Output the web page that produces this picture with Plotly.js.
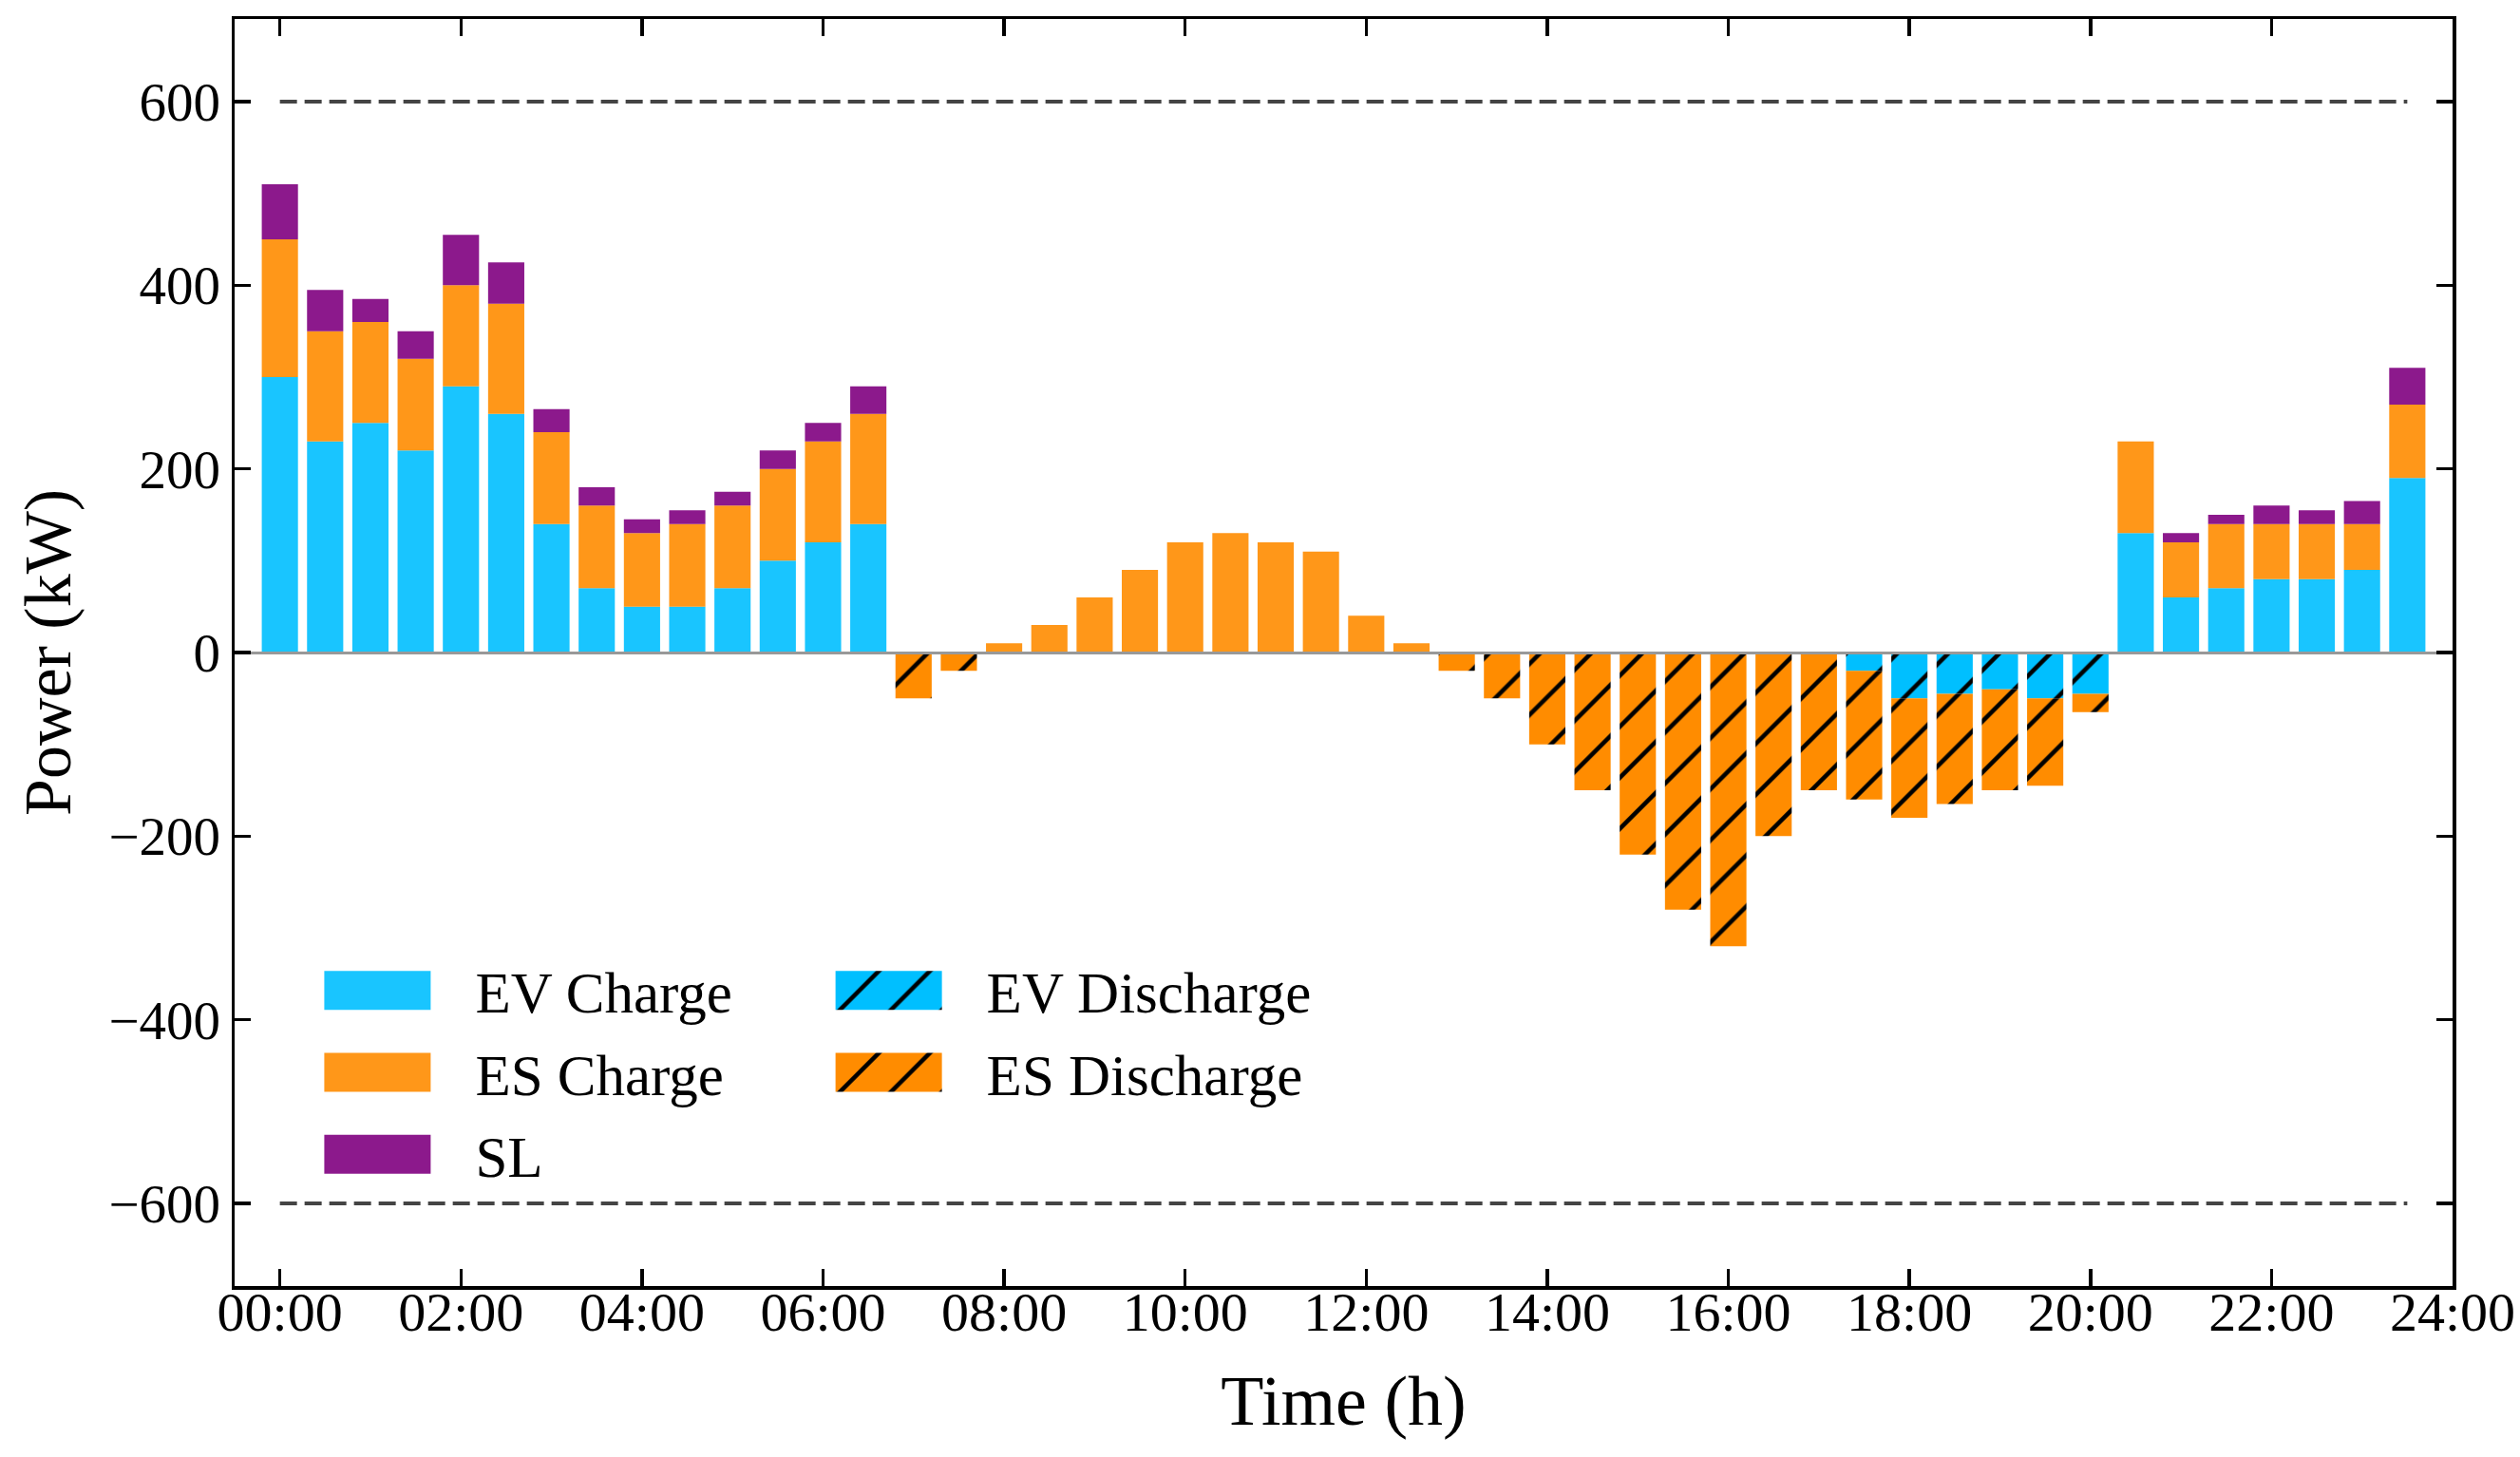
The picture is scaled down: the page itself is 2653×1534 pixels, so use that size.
<!DOCTYPE html>
<html>
<head>
<meta charset="utf-8">
<script src="https://cdn.plot.ly/plotly-3.0.1.min.js"></script>
<style>
  body { margin: 0; background: #fff; }
  #chart { width: 2653px; height: 1534px; }
</style>
</head>
<body>
<div id="chart"></div>
<script>
var times = ['00:00','00:30','01:00','01:30','02:00','02:30','03:00','03:30','04:00','04:30','05:00','05:30',
             '06:00','06:30','07:00','07:30','08:00','08:30','09:00','09:30','10:00','10:30','11:00','11:30',
             '12:00','12:30','13:00','13:30','14:00','14:30','15:00','15:30','16:00','16:30','17:00','17:30',
             '18:00','18:30','19:00','19:30','20:00','20:30','21:00','21:30','22:00','22:30','23:00','23:30'];

var evCharge = [300,230,250,220,290,260,140,70,50,50,70,100,
                120,140,0,0,0,0,0,0,0,0,0,0,
                0,0,0,0,0,0,0,0,0,0,0,0,
                0,0,0,0,0,130,60,70,80,80,90,190];
var esCharge = [150,120,110,100,110,120,100,90,80,90,90,100,
                110,120,0,0,10,30,60,90,120,130,120,110,
                40,10,0,0,0,0,0,0,0,0,0,0,
                0,0,0,0,0,100,60,70,60,60,50,80];
var sl = [60,45,25,30,55,45,25,20,15,15,15,20,
          20,30,0,0,0,0,0,0,0,0,0,0,
          0,0,0,0,0,0,0,0,0,0,0,0,
          0,0,0,0,0,0,10,10,20,15,25,40];
var evDischarge = [0,0,0,0,0,0,0,0,0,0,0,0,
                   0,0,0,0,0,0,0,0,0,0,0,0,
                   0,0,0,0,0,0,0,0,0,0,0,-20,
                   -50,-45,-40,-50,-45,0,0,0,0,0,0,0];
var esDischarge = [0,0,0,0,0,0,0,0,0,0,0,0,
                   0,0,-50,-20,0,0,0,0,0,0,0,0,
                   0,0,-20,-50,-100,-150,-220,-280,-320,-200,-150,-140,
                   -130,-120,-110,-95,-20,0,0,0,0,0,0,0];
var limits = [600, -600];

var xTicks = ['00:00','02:00','04:00','06:00','08:00','10:00','12:00','14:00','16:00','18:00','20:00','22:00','24:00'];

function toHours(t) {
  var p = t.split(':');
  return +p[0] + (+p[1]) / 60;
}
var hours = times.map(toHours);

var font = 'Liberation Serif, Times New Roman, serif';
var itemWidth = 150;

function hatch(color) {
  return {shape: '/', bgcolor: color, fgcolor: '#000', fgopacity: 1, size: 38, solidity: 0.12};
}

var data = [
  {type: 'bar', name: 'EV Charge', x: hours, y: evCharge, legend: 'legend', legendgroup: 'a',
   marker: {color: 'rgba(0,191,255,0.9)'}},
  {type: 'bar', name: 'ES Charge', x: hours, y: esCharge, legend: 'legend', legendgroup: 'b',
   marker: {color: 'rgba(255,140,0,0.9)'}},
  {type: 'bar', name: 'SL', x: hours, y: sl, legend: 'legend', legendgroup: 'c',
   marker: {color: 'rgba(128,0,128,0.9)'}},
  {type: 'bar', name: 'EV Discharge', x: hours, y: evDischarge, legend: 'legend2', legendgroup: 'd',
   marker: {color: '#00bfff', pattern: hatch('#00bfff')}},
  {type: 'bar', name: 'ES Discharge', x: hours, y: esDischarge, legend: 'legend2', legendgroup: 'e',
   marker: {color: '#ff8c00', pattern: hatch('#ff8c00')}}
];

// capacity limits (dashed)
limits.forEach(function(v) {
  data.push({type: 'scatter', mode: 'lines', showlegend: false, hoverinfo: 'skip',
    x: [hours[0], hours[hours.length - 1]], y: [v, v],
    line: {color: '#444', width: 4, dash: '18px,8px'}});
});

var legendBase = {
  font: {family: font, size: 61, color: '#000'},
  bgcolor: 'rgba(0,0,0,0)', borderwidth: 0,
  xanchor: 'left', yanchor: 'top', y: 0.268,
  itemwidth: itemWidth, tracegroupgap: 4, itemclick: false
};

var layout = {
  width: 2653, height: 1534,
  margin: {l: 247, r: 71, t: 20, b: 180},
  paper_bgcolor: '#fff', plot_bgcolor: '#fff',
  barmode: 'relative', bargap: 0.2,
  font: {family: font, size: 54, color: '#000'},
  xaxis: {
    range: [-0.5, 24],
    tickvals: xTicks.map(toHours), ticktext: xTicks,
    ticks: 'inside', ticklen: 18, tickwidth: 3.5, tickcolor: '#000',
    showline: true, linewidth: 3.5, linecolor: '#000', mirror: 'allticks',
    showgrid: false, zeroline: false,
    tickfont: {family: font, size: 58}, ticklabelstandoff: -26,
    title: {text: 'Time (h)', font: {family: font, size: 74}, standoff: 36}
  },
  yaxis: {
    range: [-690, 690], dtick: 200, tick0: 0,
    ticks: 'inside', ticklen: 17, tickwidth: 3.5, tickcolor: '#000',
    showline: true, linewidth: 3.5, linecolor: '#000', mirror: 'allticks',
    showgrid: false,
    zeroline: true, zerolinecolor: '#999', zerolinewidth: 3, zerolinelayer: 'above traces',
    tickfont: {family: font, size: 57},
    title: {text: 'Power (kW)', font: {family: font, size: 70}, standoff: 18}
  },
  legend: Object.assign({}, legendBase, {x: 0.040}),
  legend2: Object.assign({}, legendBase, {x: 0.2705}),
  showlegend: true
};

// legend swatches in the original are wide blocks; plotly draws 12px squares.
// the points group is centred at (itemwidth + 10) / 2 and the text starts at itemwidth + 10
function widenSwatches() {
  var gd = document.getElementById('chart');
  var center = (itemWidth + 10) / 2;
  var right = itemWidth + 10 - 47 - center, left = right - 112;
  var barTraces = gd.querySelectorAll('.barlayer .trace');
  gd.querySelectorAll('g[class^="legend"] g.traces').forEach(function(item) {
    var p = item.querySelector('.legendpoints path');
    if (!p) return;
    p.setAttribute('d', 'M' + right + ',20.5H' + left + 'V-20.5H' + right + 'Z');
    // use the full-size hatch of the bars instead of the shrunken legend one
    var d = item.__data__ && item.__data__[0];
    var idx = d && d.trace ? d.trace.index : -1;
    if (idx >= 0 && barTraces[idx]) {
      var bars = barTraces[idx].querySelectorAll('path');
      for (var i = 0; i < bars.length; i++) {
        var f = bars[i].style.fill;
        if (f && f.indexOf('url') >= 0) { p.style.fill = f; break; }
      }
    }
  });
}

var gd = document.getElementById('chart');
Plotly.newPlot(gd, data, layout, {staticPlot: true}).then(function() {
  widenSwatches();
  gd.on('plotly_afterplot', widenSwatches);
  setTimeout(widenSwatches, 0);
  setTimeout(widenSwatches, 100);
  setTimeout(widenSwatches, 400);
});
</script>
</body>
</html>
